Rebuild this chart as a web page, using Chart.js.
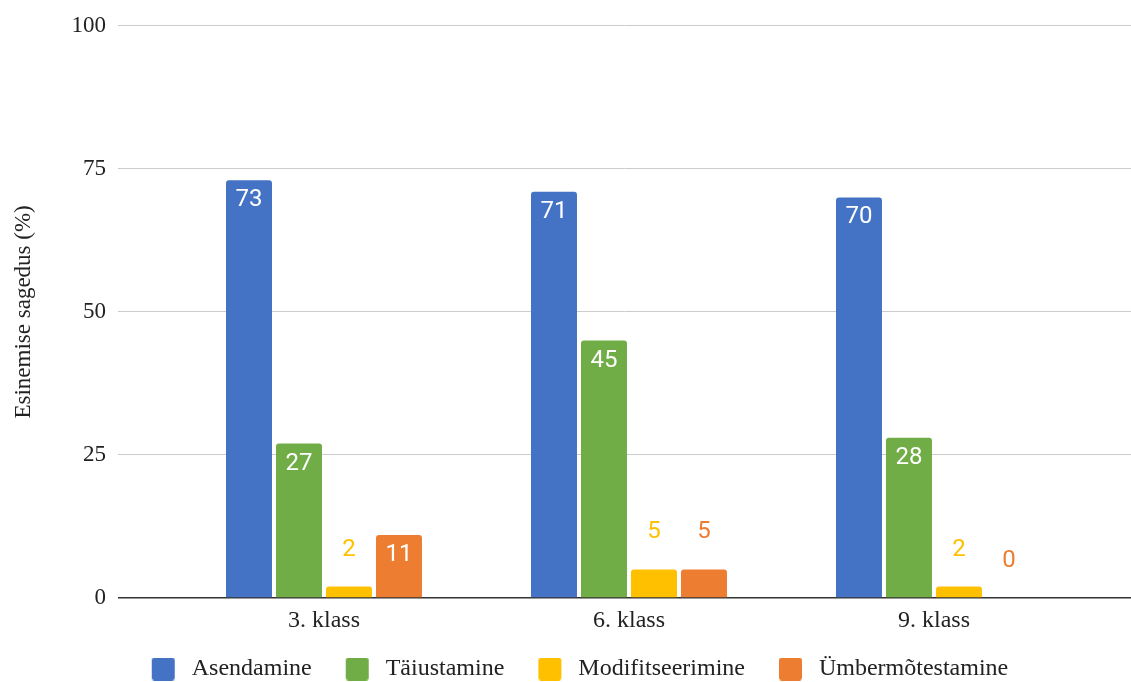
<!DOCTYPE html>
<html>
<head>
<meta charset="utf-8">
<script src="https://cdn.jsdelivr.net/npm/chart.js@4"></script>
<style>
    html, body { margin: 0; padding: 0; background: #fff; }
    #chart-container { width: 1131px; height: 682px; }
</style>
</head>
<body>
<div id="chart-container"><canvas id="myChart"></canvas></div>
<script>
// grades on the x axis
const classes = ['3. klass', '6. klass', '9. klass'];

// frequency (%) per grade
const asendamine = [73, 71, 70];
const taiustamine = [27, 45, 28];
const modifitseerimine = [2, 5, 2];
const umbermotestamine = [11, 5, 0];

const yTicks = [0, 25, 50, 75, 100];

const colors = ['#4472C4', '#70AD47', '#FFC000', '#ED7D31'];

const serif = "'Liberation Serif', 'Times New Roman', serif";
const sans = "Roboto, 'Noto Sans', sans-serif";

function toPoints(values) {
    return values.map((v, i) => ({ x: i, y: v }));
}

// legend swatch: rounded square with empty space on both sides,
// so the items get wider gaps than the legend padding alone gives
const SWATCH_LEFT = 29, SWATCH_SIZE = 23, SWATCH_RIGHT = 5;
const SWATCH_WIDTH = SWATCH_LEFT + SWATCH_SIZE + SWATCH_RIGHT;
function legendSwatch(color) {
    const c = document.createElement('canvas');
    c.width = SWATCH_WIDTH;
    c.height = SWATCH_SIZE;
    const g = c.getContext('2d');
    g.fillStyle = color;
    g.beginPath();
    if (g.roundRect) {
        g.roundRect(SWATCH_LEFT, 0, SWATCH_SIZE, SWATCH_SIZE, 3);
    } else {
        g.rect(SWATCH_LEFT, 0, SWATCH_SIZE, SWATCH_SIZE);
    }
    g.fill();
    return c;
}

// value labels: inside the top of tall bars, above short ones
const barLabels = {
    id: 'barLabels',
    afterDatasetsDraw(chart) {
        const ctx = chart.ctx;
        ctx.save();
        ctx.font = '24px ' + sans;
        ctx.textAlign = 'center';
        ctx.textBaseline = 'middle';
        chart.data.datasets.forEach((ds, di) => {
            const meta = chart.getDatasetMeta(di);
            meta.data.forEach((bar, i) => {
                const value = ds.data[i].y;
                const h = bar.base - bar.y;
                if (h > 40) {
                    ctx.fillStyle = '#ffffff';
                    ctx.fillText(value, bar.x, bar.y + 20);
                } else {
                    ctx.fillStyle = ds.backgroundColor;
                    ctx.fillText(value, bar.x, bar.y - 37);
                }
            });
        });
        ctx.restore();
    }
};

const ctx = document.getElementById('myChart').getContext('2d');
new Chart(ctx, {
    type: 'bar',
    data: {
        datasets: [
            { label: 'Asendamine', data: toPoints(asendamine), backgroundColor: colors[0] },
            { label: 'Täiustamine', data: toPoints(taiustamine), backgroundColor: colors[1] },
            { label: 'Modifitseerimine', data: toPoints(modifitseerimine), backgroundColor: colors[2] },
            { label: 'Ümbermõtestamine', data: toPoints(umbermotestamine), backgroundColor: colors[3] }
        ]
    },
    options: {
        responsive: true,
        maintainAspectRatio: false,
        animation: false,
        layout: { padding: { top: 23, right: 0, bottom: 0, left: 0 } },
        datasets: {
            bar: {
                categoryPercentage: 0.6557,
                barPercentage: 0.92,
                borderRadius: 3
            }
        },
        scales: {
            x: {
                type: 'linear',
                offset: false,
                min: -0.6754,
                max: 2.646,
                grid: { display: false, offset: false, drawTicks: false },
                border: { display: false },
                afterBuildTicks: scale => {
                    scale.ticks = classes.map((c, i) => ({ value: i }));
                },
                afterFit: scale => { scale.height = 54; },
                ticks: {
                    autoSkip: false,
                    maxRotation: 0,
                    padding: 8,
                    color: '#222',
                    font: { family: serif, size: 24 },
                    callback: value => classes[value]
                }
            },
            y: {
                min: 0,
                max: 100,
                afterBuildTicks: scale => {
                    scale.ticks = yTicks.map(v => ({ value: v }));
                },
                afterFit: scale => { scale.width = 118; },
                grid: {
                    drawTicks: false,
                    color: c => c.tick && c.tick.value === 0 ? '#333333' : '#cccccc',
                    lineWidth: c => c.tick && c.tick.value === 0 ? 1.5 : 1
                },
                border: { display: false },
                ticks: {
                    padding: 12,
                    color: '#222',
                    font: { family: serif, size: 23 }
                },
                title: {
                    display: true,
                    text: 'Esinemise sagedus (%)',
                    color: '#222',
                    font: { family: serif, size: 23 },
                    padding: { top: 10, bottom: 0 }
                }
            }
        },
        plugins: {
            tooltip: { enabled: false },
            legend: {
                position: 'bottom',
                maxHeight: 30,
                labels: {
                    color: '#222',
                    font: { family: serif, size: 24 },
                    usePointStyle: true,
                    pointStyleWidth: SWATCH_WIDTH,
                    boxHeight: SWATCH_SIZE,
                    padding: 5,
                    generateLabels: chart => {
                        const items = Chart.defaults.plugins.legend.labels.generateLabels(chart);
                        items.forEach((item, i) => {
                            item.pointStyle = legendSwatch(colors[i]);
                        });
                        return items;
                    }
                }
            }
        }
    },
    plugins: [barLabels]
});
</script>
</body>
</html>
